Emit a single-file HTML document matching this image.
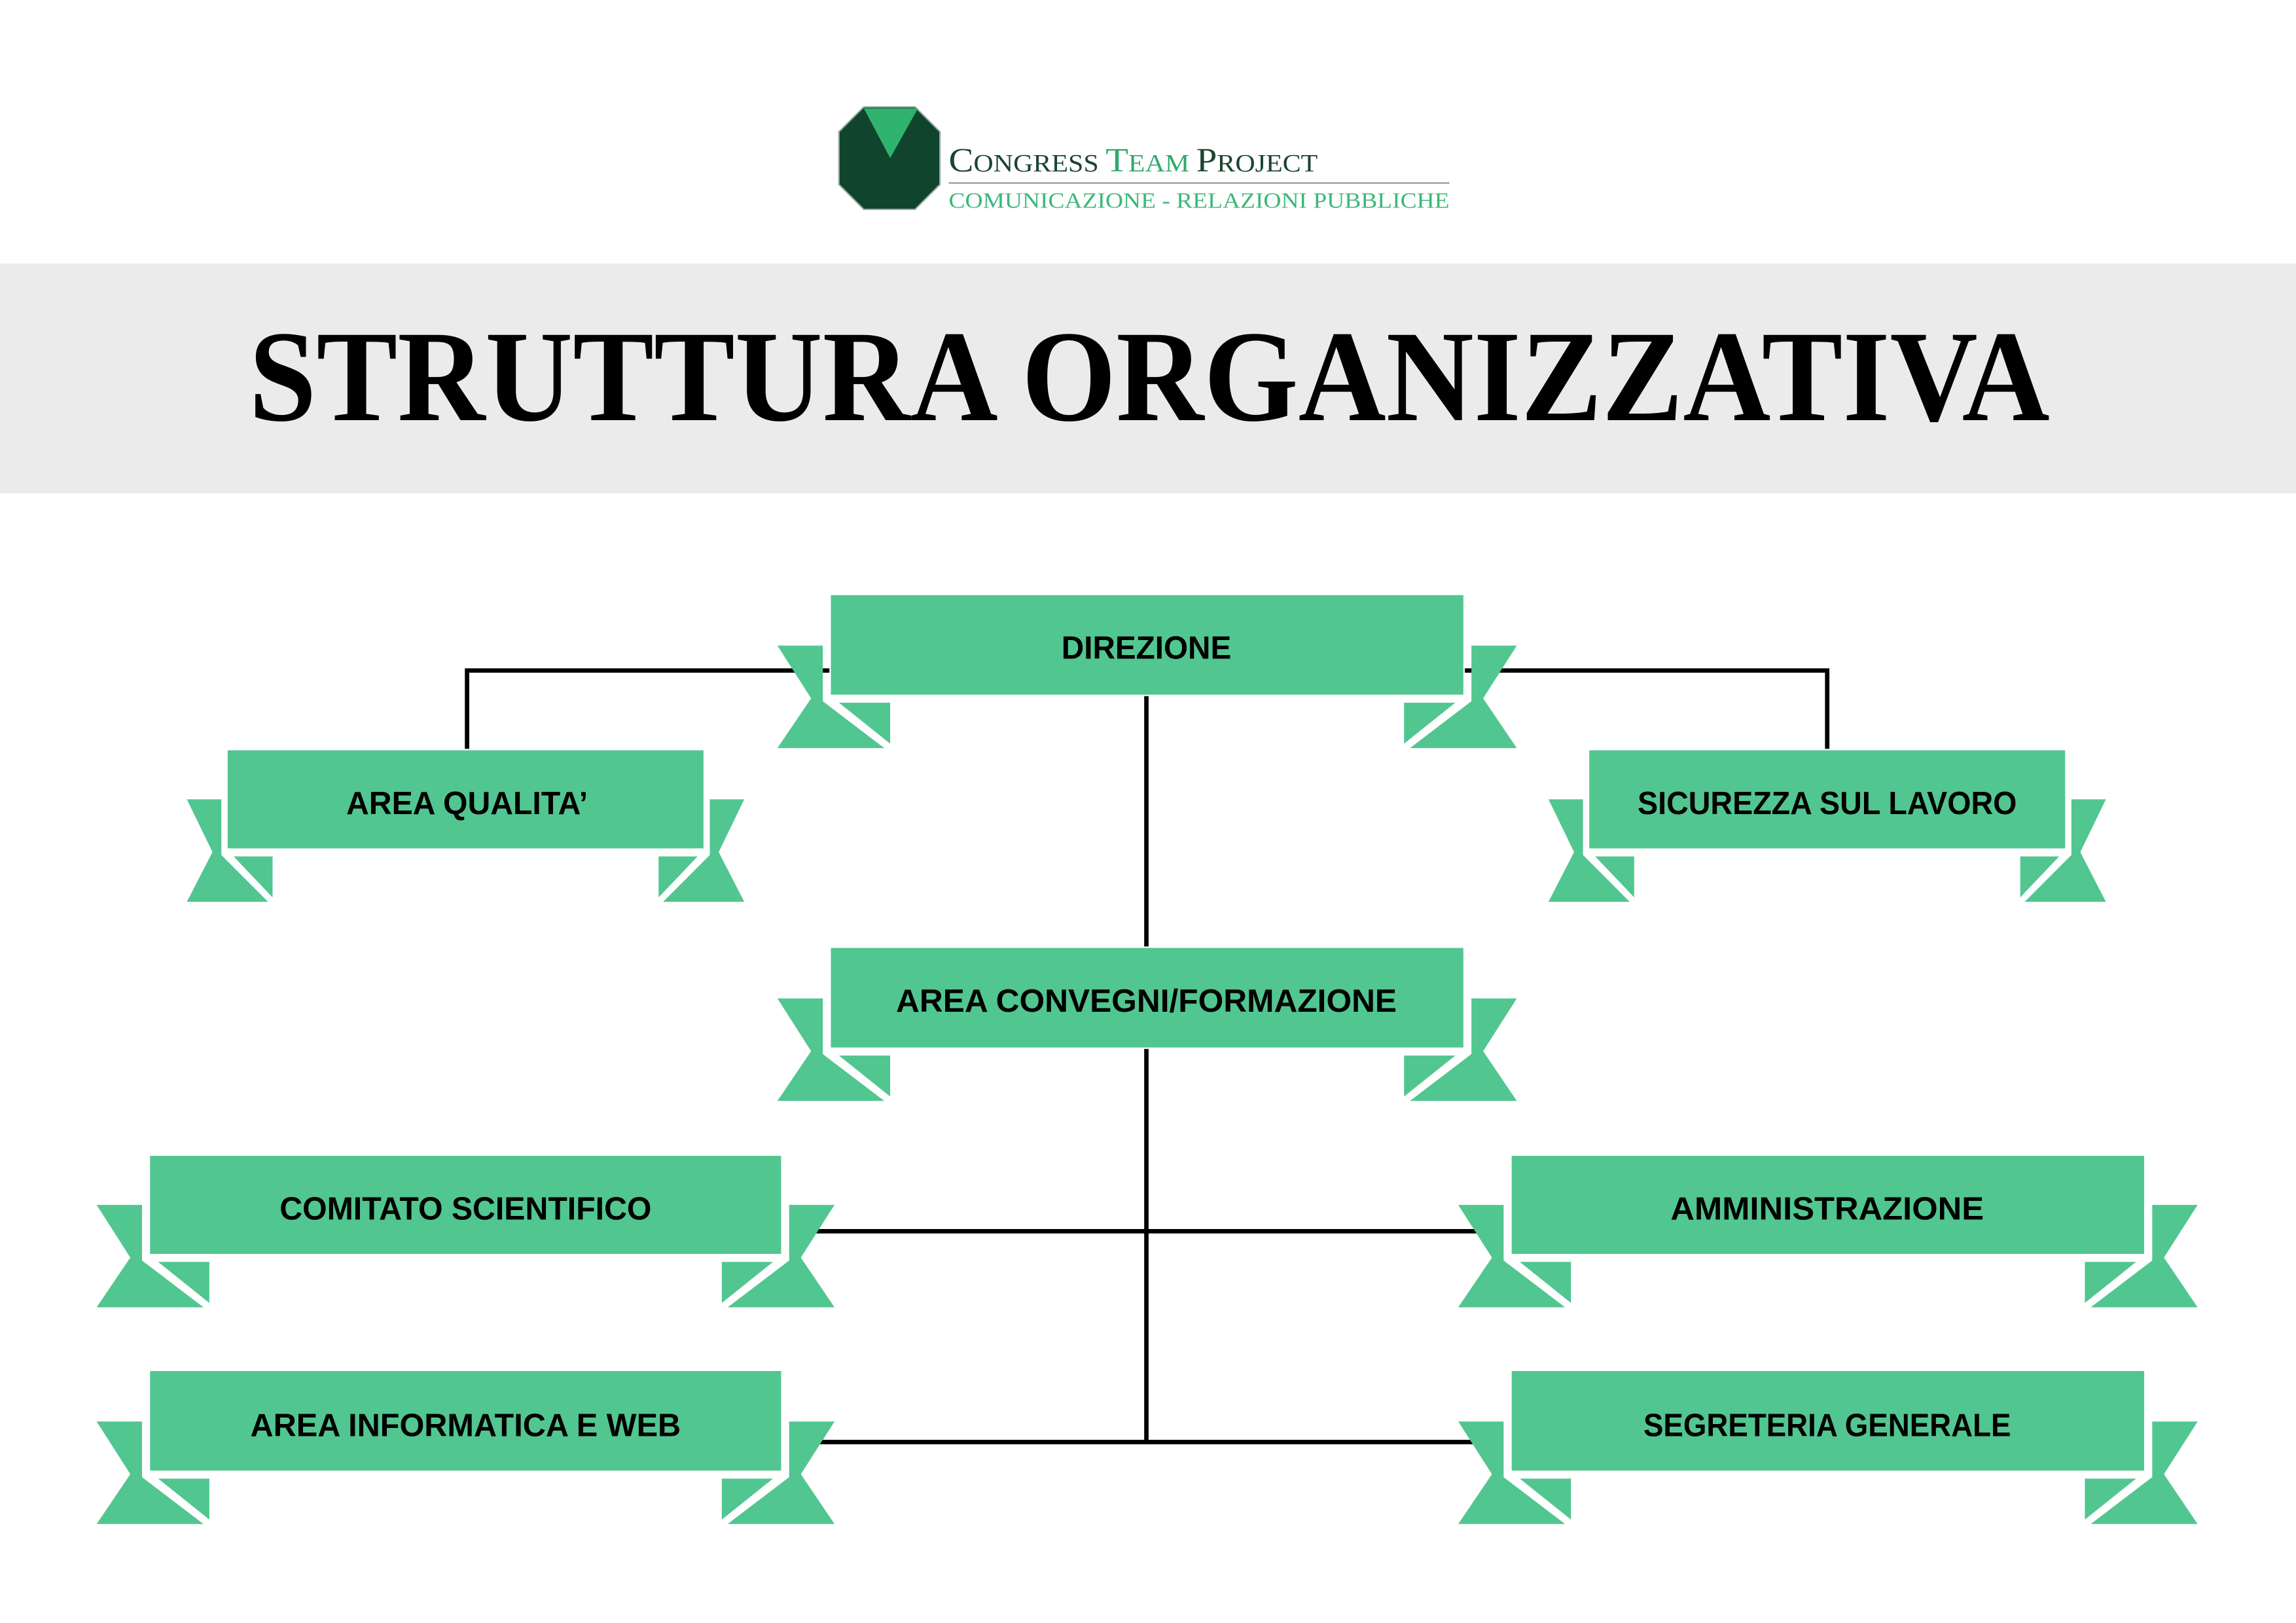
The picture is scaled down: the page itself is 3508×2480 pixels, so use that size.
<!DOCTYPE html>
<html><head><meta charset="utf-8"><style>
html,body{margin:0;padding:0;background:#fff;}
svg{display:block;}
</style></head><body>
<svg width="3508" height="2480" viewBox="0 0 1568.2 1108.6" xmlns="http://www.w3.org/2000/svg">
<defs>
<g id="L" fill="#52c690">
<polygon points="-36,-34 -5,-34 -5,4 37,36 -36,36 -13,2"/>
<polygon points="6,5 41,5 41,33"/>
</g>
</defs>
<rect x="0" y="0" width="1568.2" height="1108.6" fill="#fff"/>
<!-- logo -->
<polygon points="590,73 625,73 642,90 642,126 625,143 590,143 573,126 573,90" fill="#10442c" stroke="#9aa" stroke-width="1"/>
<polygon points="590,74 627,74 608,108" fill="#2fb36d"/>
<text x="648" y="117" textLength="252" lengthAdjust="spacingAndGlyphs" font-family="'Liberation Serif',serif" fill="#1b4430"><tspan font-size="23">C</tspan><tspan font-size="17">ONGRESS </tspan><tspan font-size="23" fill="#2faa6b">T</tspan><tspan font-size="17" fill="#2faa6b">EAM </tspan><tspan font-size="23">P</tspan><tspan font-size="17">ROJECT</tspan></text>
<line x1="648" y1="125" x2="990" y2="125" stroke="#999" stroke-width="1"/>
<text x="648" y="142" textLength="342" lengthAdjust="spacingAndGlyphs" font-family="'Liberation Serif',serif" font-size="15" fill="#3cb878">COMUNICAZIONE - RELAZIONI PUBBLICHE</text>
<!-- title band -->
<rect x="0" y="180" width="1568.2" height="157" fill="#ebebeb"/>
<text x="170" y="287" textLength="1230" lengthAdjust="spacingAndGlyphs" font-family="'Liberation Serif',serif" font-weight="bold" font-size="89" fill="#000">STRUTTURA ORGANIZZATIVA</text>
<!-- connectors -->
<g stroke="#000" stroke-width="3" fill="none">
<polyline points="319,512 319,458 1248,458 1248,512"/>
<line x1="783" y1="470" x2="783" y2="986"/>
<line x1="555" y1="841" x2="1010" y2="841"/>
<line x1="555" y1="985" x2="1010" y2="985"/>
</g>
<!-- ribbons -->
<g fill="#52c690" stroke="#fff" stroke-width="1">
<rect x="567" y="406" width="433" height="69"/>
<rect x="155" y="512" width="326" height="68"/>
<rect x="1085" y="512" width="326" height="68"/>
<rect x="567" y="647" width="433" height="69"/>
<rect x="102" y="789" width="432" height="68"/>
<rect x="1032" y="789" width="433" height="68"/>
<rect x="102" y="936" width="432" height="69"/>
<rect x="1032" y="936" width="433" height="69"/>
</g>
<use href="#L" transform="translate(567,475)"/><use href="#L" transform="translate(1000,475) scale(-1,1)"/>
<use href="#L" transform="translate(155,580) scale(0.76,1)"/><use href="#L" transform="translate(481,580) scale(-0.76,1)"/>
<use href="#L" transform="translate(1085,580) scale(0.76,1)"/><use href="#L" transform="translate(1411,580) scale(-0.76,1)"/>
<use href="#L" transform="translate(567,716)"/><use href="#L" transform="translate(1000,716) scale(-1,1)"/>
<use href="#L" transform="translate(102,857)"/><use href="#L" transform="translate(534,857) scale(-1,1)"/>
<use href="#L" transform="translate(1032,857)"/><use href="#L" transform="translate(1465,857) scale(-1,1)"/>
<use href="#L" transform="translate(102,1005)"/><use href="#L" transform="translate(534,1005) scale(-1,1)"/>
<use href="#L" transform="translate(1032,1005)"/><use href="#L" transform="translate(1465,1005) scale(-1,1)"/>
<g font-family="'Liberation Sans',sans-serif" font-weight="bold" font-size="22" fill="#000" text-anchor="middle">
<text x="783" y="450" textLength="116" lengthAdjust="spacingAndGlyphs">DIREZIONE</text>
<text x="319" y="556" textLength="165" lengthAdjust="spacingAndGlyphs">AREA QUALITA’</text>
<text x="1248" y="556" textLength="259" lengthAdjust="spacingAndGlyphs">SICUREZZA SUL LAVORO</text>
<text x="783" y="691" textLength="342" lengthAdjust="spacingAndGlyphs">AREA CONVEGNI/FORMAZIONE</text>
<text x="318" y="833" textLength="254" lengthAdjust="spacingAndGlyphs">COMITATO SCIENTIFICO</text>
<text x="1248" y="833" textLength="214" lengthAdjust="spacingAndGlyphs">AMMINISTRAZIONE</text>
<text x="318" y="981" textLength="294" lengthAdjust="spacingAndGlyphs">AREA INFORMATICA E WEB</text>
<text x="1248" y="981" textLength="251" lengthAdjust="spacingAndGlyphs">SEGRETERIA GENERALE</text>
</g>
</svg>
</body></html>
